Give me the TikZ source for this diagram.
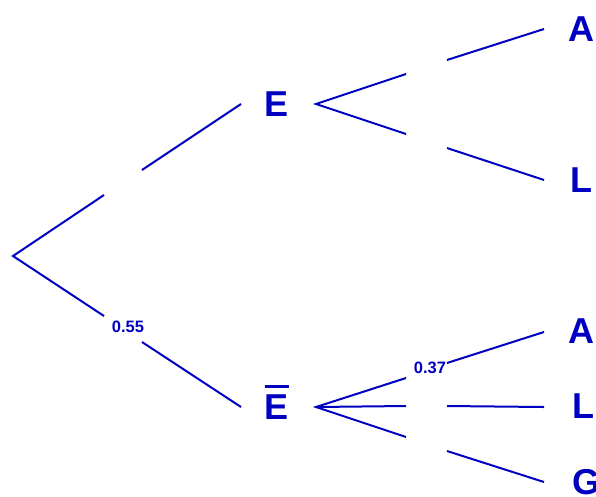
\documentclass[tikz,border=0pt]{standalone}
\usepackage{fontspec}
\setmainfont{Liberation Sans}
\begin{document}
\begin{tikzpicture}[x=1pt,y=-1pt,
  treecol/.style={draw=tblue, line width=2pt},
  bigl/.style={text=tblue, font=\bfseries\fontsize{36}{36}\selectfont, inner sep=0pt},
  prob/.style={text=tblue, font=\bfseries\fontsize{16.5}{16.5}\selectfont, inner sep=0pt}]
\definecolor{tblue}{RGB}{0,0,192}
\useasboundingbox (0,0) rectangle (596,496);
% nodes
\coordinate (root) at (13,256);
\node[bigl] (E) at (277,104) {E};
\node[bigl] (Eb) at (277,407) {E};
\draw[draw=tblue, line width=3pt] ([yshift=8pt]Eb.north west) -- ([yshift=8pt]Eb.north east);
\node[bigl] (A1) at (581,29) {A};
\node[bigl] (L1) at (581,180) {L};
\node[bigl] (A2) at (581,331) {A};
\node[bigl] (L2) at (583,406) {L};
\node[bigl] (G2) at (586,482) {G};
\node[prob] (p55) at (128,327) {0.55};
\node[prob] (p37) at (430,368) {0.37};
% gap coordinates
\coordinate (r1a) at (104,195); \coordinate (r1b) at (142,170); \coordinate (E1) at (241,104);
\coordinate (r2a) at (104,316); \coordinate (r2b) at (142,342); \coordinate (Eb1) at (241,407);
\coordinate (Es) at (316,104);
\coordinate (ea) at (406,74); \coordinate (eb) at (447,60); \coordinate (eA) at (544,29);
\coordinate (ec) at (406,134); \coordinate (ed) at (447,148); \coordinate (eL) at (544,180);
\coordinate (Ebs) at (316,407);
\coordinate (fa) at (406,378); \coordinate (fb) at (447,363); \coordinate (fA) at (544,332);
\coordinate (fc) at (406,406); \coordinate (fd) at (447,406); \coordinate (fL) at (544,407);
\coordinate (fe) at (406,437); \coordinate (ff) at (447,451); \coordinate (fG) at (544,482);
% connectors
\draw[treecol] (r1a) -- (root) -- (r2a);
\draw[treecol] (r1b) -- (E1);
\draw[treecol] (r2b) -- (Eb1);
\draw[treecol] (ea) -- (Es) -- (ec);
\draw[treecol] (eb) -- (eA);
\draw[treecol] (ed) -- (eL);
\draw[treecol] (fa) -- (Ebs) -- (fe);
\draw[treecol] (Ebs) -- (fc);
\draw[treecol] (fb) -- (fA);
\draw[treecol] (fd) -- (fL);
\draw[treecol] (ff) -- (fG);
\end{tikzpicture}
\end{document}
